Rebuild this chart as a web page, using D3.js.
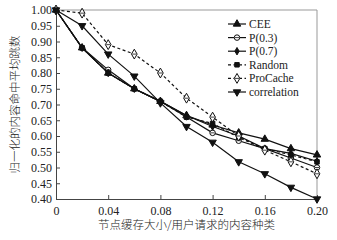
<!DOCTYPE html>
<html><head><meta charset="utf-8">
<script src="https://cdn.jsdelivr.net/npm/d3@7"></script>
<style>body{margin:0;background:#fff}svg{display:block}</style>
</head><body>
<script>
const xs = [0, 0.02, 0.04, 0.06, 0.08, 0.10, 0.12, 0.14, 0.16, 0.18, 0.20];
const seriesNames = ["CEE", "P(0.3)", "P(0.7)", "Random", "ProCache", "correlation"];
const cee = [1.00, 0.88, 0.80, 0.75, 0.71, 0.665, 0.635, 0.61, 0.59, 0.56, 0.54];
const p03 = [1.00, 0.88, 0.81, 0.75, 0.71, 0.66, 0.61, 0.585, 0.56, 0.53, 0.50];
const p07 = [1.00, 0.88, 0.80, 0.75, 0.71, 0.665, 0.63, 0.60, 0.56, 0.545, 0.52];
const rnd = [1.00, 0.88, 0.80, 0.75, 0.71, 0.66, 0.64, 0.595, 0.56, 0.54, 0.518];
const proc = [1.00, 0.99, 0.89, 0.86, 0.80, 0.72, 0.66, 0.60, 0.555, 0.518, 0.48];
const corr = [1.00, 0.95, 0.86, 0.79, 0.705, 0.63, 0.58, 0.518, 0.48, 0.437, 0.40];
const xTicks = [0, 0.04, 0.08, 0.12, 0.16, 0.20];
const yTicks = [0.40, 0.45, 0.50, 0.55, 0.60, 0.65, 0.70, 0.75, 0.80, 0.85, 0.90, 0.95, 1.00];
const yLabel = "归一化的内容命中平均跳数";
const xLabel = "节点缓存大小/用户请求的内容种类";

const W = 337, H = 240;
const L = 56, R = 317, T = 10, B = 199;
const svg = d3.select("body").append("svg").attr("width", W).attr("height", H);
const x = d3.scaleLinear().domain([0, 0.20]).range([L, R]);
const y = d3.scaleLinear().domain([0.40, 1.00]).range([B, T]);

const serif = "'Liberation Serif','DejaVu Serif',serif";
// frame
svg.append("line").attr("x1", L).attr("x2", R).attr("y1", T).attr("y2", T).attr("stroke", "#999").attr("stroke-width", 1);
svg.append("line").attr("x1", R).attr("x2", R).attr("y1", T).attr("y2", B).attr("stroke", "#999").attr("stroke-width", 1);

const xAxis = svg.append("g").attr("transform", `translate(0,${B})`)
  .call(d3.axisBottom(x).tickValues(xTicks).tickSizeInner(-4).tickSizeOuter(0).tickPadding(7)
    .tickFormat(d => d === 0 ? "0" : d3.format(".2f")(d)));
const yAxis = svg.append("g").attr("transform", `translate(${L},0)`)
  .call(d3.axisLeft(y).tickValues(yTicks).tickSizeInner(-4).tickSizeOuter(0).tickPadding(4)
    .tickFormat(d3.format(".2f")));
[xAxis, yAxis].forEach(g => {
  g.select(".domain").attr("stroke", "#444").attr("stroke-width", 1);
  g.selectAll(".tick line").attr("stroke", "#444");
  g.selectAll("text").attr("font-family", serif).attr("font-size", 12).attr("fill", "#222");
});

svg.append("text").attr("transform", `translate(14,${(T + B) / 2}) rotate(-90)`)
  .attr("text-anchor", "middle").attr("dominant-baseline", "central")
  .attr("font-family", "'Noto Sans CJK SC'").attr("font-weight", 300).attr("font-size", 11.5).attr("fill", "#222").text(yLabel);
svg.append("text").attr("x", (L + R) / 2).attr("y", 229).attr("text-anchor", "middle")
  .attr("font-family", "'Noto Sans CJK SC'").attr("font-weight", 300).attr("font-size", 11.5).attr("fill", "#222").text(xLabel);

const datasets = [cee, p03, p07, rnd, proc, corr];
const dashes = [null, null, null, "3,2.5", "3,2.5", null];
const markers = [
  {t: d3.symbolTriangle, s: 24, fill: "#111"},
  {t: d3.symbolCircle, s: 24, fill: "#fff"},
  {t: d3.symbolDiamond, s: 16, fill: "#111"},
  {t: d3.symbolSquare, s: 20, fill: "#111"},
  {t: d3.symbolDiamond, s: 28, fill: "#fff"},
  {t: d3.symbolTriangle, s: 24, fill: "#111", rot: 180}
];
const line = d3.line().x((d, i) => x(xs[i])).y(d => y(d));

function drawMarker(g, m, cx, cy) {
  g.append("path").attr("d", d3.symbol().type(m.t).size(m.s)())
    .attr("transform", `translate(${cx},${cy})` + (m.rot ? ` rotate(${m.rot})` : ""))
    .attr("fill", m.fill).attr("stroke", "#111").attr("stroke-width", 1);
  if (m.fill === "#fff") {
    g.append("line").attr("x1", cx - 2).attr("x2", cx + 2).attr("y1", cy).attr("y2", cy).attr("stroke", "#111").attr("stroke-width", 0.8);
  }
}

datasets.forEach((ds, k) => {
  const g = svg.append("g");
  g.append("path").attr("d", line(ds)).attr("fill", "none").attr("stroke", "#111")
    .attr("stroke-width", 1.2).attr("stroke-dasharray", dashes[k]);
  ds.forEach((v, i) => drawMarker(g, markers[k], x(xs[i]), y(v)));
});

// legend
const lg = svg.append("g");
seriesNames.forEach((name, k) => {
  const ly = 24 + k * 13.6;
  lg.append("line").attr("x1", 228).attr("x2", 246).attr("y1", ly).attr("y2", ly)
    .attr("stroke", "#111").attr("stroke-width", 1.2).attr("stroke-dasharray", dashes[k]);
  drawMarker(lg, markers[k], 237, ly);
  lg.append("text").attr("x", 249).attr("y", ly).attr("dominant-baseline", "central")
    .attr("font-family", serif).attr("font-size", 11.5).attr("fill", "#222").text(name);
});
</script>
</body></html>
